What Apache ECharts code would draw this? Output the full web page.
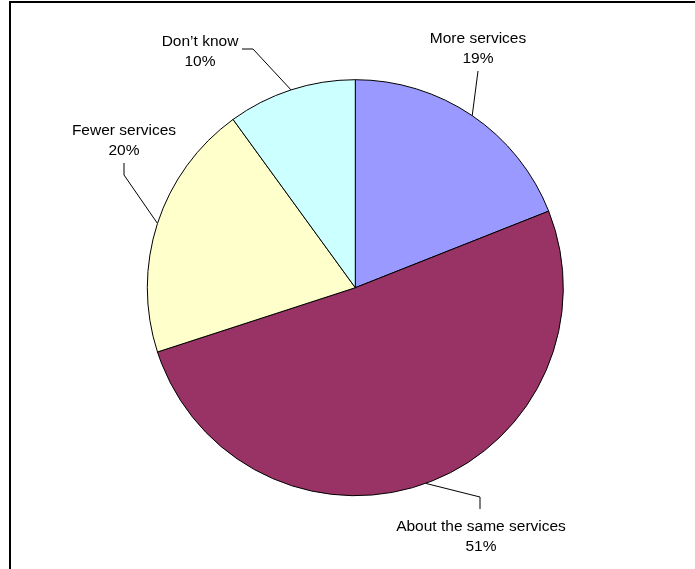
<!DOCTYPE html>
<html>
<head>
<meta charset="utf-8">
<script src="https://cdn.jsdelivr.net/npm/echarts@6/dist/echarts.min.js"></script>
<style>
  html, body { margin: 0; padding: 0; background: #fff; overflow: hidden; }
  #chart { width: 695px; height: 569px; }
</style>
</head>
<body>
<div id="chart"></div>
<script>
// Survey answers, clockwise from twelve o'clock
const categories = ['More services', 'About the same services', 'Fewer services', 'Don\u2019t know'];
const shares = [19, 51, 20, 10];
const sliceColors = ['#9999FF', '#993366', '#FFFFCC', '#CCFFFF'];

// Where each two-line label sits (centre of the text block) and the bends of its leader line
const labelPlacement = [
  { x: 478, y: 49,  guide: [[478, 71]] },
  { x: 481, y: 537, guide: [[480, 497], [480, 509]] },
  { x: 124, y: 141, guide: [[124, 175], [124, 163]] },
  { x: 200, y: 52,  guide: [[253, 49], [242, 49]] }
];

const chart = echarts.init(document.getElementById('chart'), null, { renderer: 'canvas' });

chart.setOption({
  animation: false,
  backgroundColor: '#ffffff',
  // frame: only its left and top edges fall inside the view
  graphic: [{
    type: 'polyline',
    shape: { points: [[10, 700], [10, 2], [900, 2]] },
    style: { fill: 'none', stroke: '#000', lineWidth: 2 },
    silent: true,
    z: 100
  }],
  series: [{
    type: 'pie',
    center: [355.3, 287.7],
    radius: 208,
    startAngle: 90,
    clockwise: true,
    avoidLabelOverlap: false,
    percentPrecision: 0,
    data: categories.map((name, i) => ({
      name: name,
      value: shares[i],
      itemStyle: { color: sliceColors[i] }
    })),
    itemStyle: { borderColor: '#000', borderWidth: 1 },
    emphasis: { disabled: true },
    label: {
      show: true,
      position: 'outside',
      overflow: 'none',
      formatter: p => p.name + '\n' + Math.round(p.percent) + '%',
      fontFamily: '"Liberation Sans", Arial, sans-serif',
      fontSize: 15.5,
      lineHeight: 20,
      color: '#000',
      align: 'center'
    },
    labelLine: {
      show: true,
      length: 10,
      length2: 10,
      smooth: false,
      lineStyle: { color: '#000', width: 1 }
    },
    labelLayout: function (params) {
      const L = labelPlacement[params.dataIndex];
      const out = { x: L.x, y: L.y, align: 'center', verticalAlign: 'middle' };
      if (params.labelLinePoints && params.labelLinePoints.length) {
        out.labelLinePoints = [params.labelLinePoints[0]].concat(L.guide);
      }
      return out;
    }
  }]
});
</script>
</body>
</html>
